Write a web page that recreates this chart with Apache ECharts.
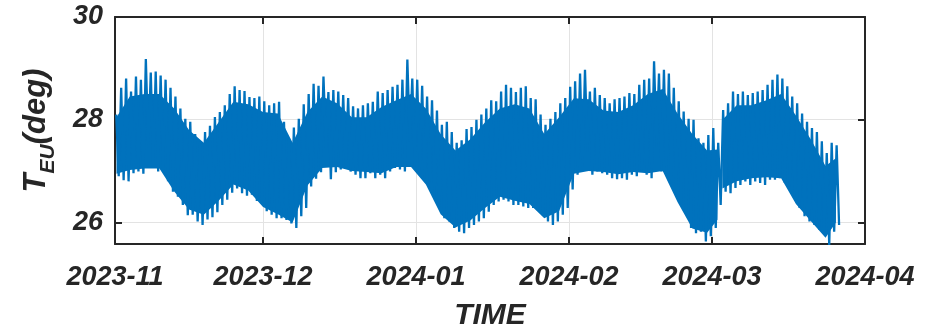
<!DOCTYPE html>
<html>
<head>
<meta charset="utf-8">
<script src="https://cdn.jsdelivr.net/npm/echarts@6/dist/echarts.min.js"></script>
<style>
html, body { margin: 0; padding: 0; background: #fff; }
#chart { width: 927px; height: 331px; }
</style>
</head>
<body>
<div id="chart"></div>
<script>
// daily peak (upper spike tips) and trough (lower spike tips), one value per day from 2023-11-01
var dailyHigh = [
	28.10, 28.62, 28.80, 28.55, 28.84, 28.78, 29.18, 28.92, 28.94, 28.86,
	28.78, 28.62, 28.45, 28.22, 28.02, 27.96, 27.72, 27.58, 27.76, 27.88,
	28.05, 28.15, 28.28, 28.50, 28.65, 28.58, 28.56, 28.44, 28.42, 28.45,
	28.36, 28.28, 28.32, 28.35, 27.96, 27.64, 27.85, 28.02, 28.30, 28.50,
	28.70, 28.66, 28.84, 28.54, 28.58, 28.55, 28.48, 28.42, 28.26, 28.22,
	28.28, 28.32, 28.35, 28.55, 28.52, 28.58, 28.64, 28.68, 28.78, 29.17,
	28.80, 28.78, 28.66, 28.45, 28.38, 28.18, 27.90, 27.96, 27.76, 27.55,
	27.60, 27.82, 27.86, 28.00, 28.10, 28.22, 28.38, 28.36, 28.55, 28.68,
	28.62, 28.54, 28.62, 28.65, 28.42, 28.40, 28.10, 27.90, 28.02, 28.15,
	28.32, 28.42, 28.64, 28.75, 28.90, 28.97, 28.55, 28.62, 28.48, 28.42,
	28.32, 28.40, 28.42, 28.45, 28.52, 28.50, 28.68, 28.78, 28.80, 29.14,
	28.90, 28.97, 28.90, 28.62, 28.36, 28.16, 28.02, 28.00, 27.64, 27.55,
	27.70, 27.84, 27.55, 28.19, 28.32, 28.55, 28.50, 28.55, 28.48, 28.52,
	28.55, 28.58, 28.68, 28.78, 28.88, 28.80, 28.65, 28.45, 28.32, 28.12,
	27.96, 27.84, 27.76, 27.58, 27.35, 27.55, 27.50
];
var dailyLow = [
	26.90, 26.82, 26.80, 26.96, 26.99, 26.95, 27.45, 27.08, 26.99, 27.02,
	26.80, 26.60, 26.50, 26.34, 26.14, 26.15, 26.02, 25.95, 26.06, 26.10,
	26.20, 26.34, 26.44, 26.58, 26.66, 26.57, 26.52, 26.54, 26.42, 26.38,
	26.22, 26.15, 26.08, 26.08, 26.05, 25.98, 25.89, 26.12, 26.28, 26.70,
	26.85, 26.98, 27.45, 26.84, 26.98, 27.03, 27.06, 26.99, 26.93, 26.86,
	26.86, 26.96, 26.86, 26.93, 26.86, 26.99, 27.06, 27.03, 26.99, 27.58,
	27.06, 26.99, 26.86, 26.67, 26.47, 26.28, 26.08, 26.02, 25.89, 25.82,
	25.79, 25.89, 25.95, 26.02, 26.08, 26.21, 26.34, 26.41, 26.44, 26.41,
	26.34, 26.34, 26.31, 26.28, 26.28, 26.25, 26.21, 26.02, 25.95, 26.02,
	26.15, 26.28, 26.64, 26.93, 27.06, 27.38, 26.93, 26.99, 26.96, 26.93,
	26.86, 26.84, 26.86, 26.83, 26.93, 26.90, 26.99, 26.93, 26.86, 27.48,
	26.99, 26.96, 26.73, 26.60, 26.34, 26.15, 25.89, 25.79, 25.82, 25.63,
	25.73, 25.89, 26.34, 26.60, 26.57, 26.67, 26.73, 26.80, 26.73, 26.80,
	26.77, 26.73, 26.83, 26.83, 26.86, 26.77, 26.70, 26.51, 26.28, 26.12,
	26.02, 25.95, 25.86, 25.76, 25.56, 25.82, 25.95
];

// solid core of the signal (where the daily swings overlap), days since 2023-11-01
var bandDays = [
	0.3, 3, 6, 9, 12, 15, 18, 21, 24, 27, 30, 33, 36, 39, 42, 45, 48, 51, 54, 57,
	60, 63, 66, 69, 72, 75, 78, 81, 84, 87, 90, 93, 96, 99, 102, 105, 108, 111, 114, 117,
	120, 122.1, 122.5, 123.1, 126, 129, 132, 135, 138, 141, 144, 146.1
];
var bandTop = [
	28.05, 28.45, 28.50, 28.50, 28.22, 27.80, 27.55, 27.95, 28.35, 28.30,
	28.15, 28.12, 27.55, 28.15, 28.45, 28.32, 28.05, 28.05, 28.25, 28.38,
	28.50, 28.22, 27.72, 27.40, 27.62, 27.95, 28.22, 28.30, 28.22, 27.72,
	28.05, 28.42, 28.40, 28.18, 28.15, 28.28, 28.50, 28.60, 28.12, 27.72,
	27.40, 27.42, null, 28.00, 28.28, 28.28, 28.38, 28.50, 28.08, 27.62,
	27.10, 27.25
];
var bandBottom = [
	26.95, 27.02, 27.05, 27.05, 26.60, 26.25, 26.15, 26.42, 26.74, 26.62,
	26.30, 26.16, 26.00, 26.72, 27.06, 27.08, 27.00, 26.98, 26.96, 27.08,
	27.08, 26.74, 26.16, 25.90, 26.04, 26.28, 26.50, 26.42, 26.36, 26.08,
	26.22, 26.95, 27.00, 26.98, 26.94, 26.98, 26.96, 27.00, 26.40, 25.88,
	25.80, 26.05, null, 26.66, 26.80, 26.86, 26.88, 26.86, 26.36, 26.03,
	25.70, 26.00
];

var DAY = 86400000;
var firstDay = new Date(2023, 10, 1).getTime();
var lastDay = new Date(2024, 3, 1).getTime();
var yMin = 25.58;
var yMax = 30;

var teu = [];
for (var i = 0; i < dailyHigh.length; i++) {
	teu.push([firstDay + (i + 0.25) * DAY, dailyHigh[i]]);
	teu.push([firstDay + (i + 0.75) * DAY, dailyLow[i]]);
}
var coreBase = [], coreSpan = [];
for (var j = 0; j < bandDays.length; j++) {
	var t = firstDay + bandDays[j] * DAY;
	var ok = bandTop[j] != null && bandBottom[j] != null;
	coreBase.push([t, ok ? bandBottom[j] : null]);
	coreSpan.push([t, ok ? bandTop[j] - bandBottom[j] : null]);
}

var ink = '#262626';
var blue = '#0072BD';
var font = 'Liberation Sans, Arial, sans-serif';

function monthLabel(v) {
	var d = new Date(v);
	var m = d.getMonth() + 1;
	return d.getFullYear() + '-' + (m < 10 ? '0' + m : m);
}

var chart = echarts.init(document.getElementById('chart'));

var xBase = {
	type: 'time',
	min: firstDay,
	max: lastDay,
	minInterval: 28 * DAY,
	maxInterval: 31 * DAY,
	axisLine: { show: true, lineStyle: { color: ink, width: 2 } },
	axisTick: { show: true, inside: true, length: 7, lineStyle: { color: ink, width: 2 } }
};
var yBase = {
	type: 'value',
	min: yMin,
	max: yMax,
	splitNumber: 2,
	axisLine: { show: true, lineStyle: { color: ink, width: 2 } },
	axisTick: { show: true, inside: true, length: 7, lineStyle: { color: ink, width: 2 } }
};
var tickFont = { fontFamily: font, fontSize: 27, fontWeight: 'bold', fontStyle: 'italic', color: ink };

chart.setOption({
	animation: false,
	grid: { left: 115, right: 62, top: 17, bottom: 87, containLabel: false, outerBoundsMode: 'none' },
	xAxis: [
		Object.assign({}, xBase, {
			position: 'bottom',
			name: 'TIME',
			nameLocation: 'middle',
			nameGap: 57,
			nameTextStyle: { fontFamily: font, fontSize: 30, fontWeight: 'bold', fontStyle: 'italic', color: ink },
			axisLabel: Object.assign({ formatter: monthLabel, margin: 20 }, tickFont),
			splitLine: { show: true, lineStyle: { color: '#e3e3e3', width: 1 } }
		}),
		Object.assign({}, xBase, {
			position: 'top',
			axisLabel: { show: false },
			splitLine: { show: false }
		})
	],
	yAxis: [
		Object.assign({}, yBase, {
			position: 'left',
			name: '{t|T}{s|EU}{d|(deg)}',
			nameLocation: 'middle',
			nameRotate: 90,
			nameGap: 63,
			nameTextStyle: {
				rich: {
					t: { fontFamily: font, fontSize: 31, fontWeight: 'bold', fontStyle: 'italic', color: ink, lineHeight: 31, verticalAlign: 'top' },
					s: { fontFamily: font, fontSize: 21, fontWeight: 'bold', fontStyle: 'italic', color: ink, lineHeight: 21, padding: [23, 0, 0, 0] },
					d: { fontFamily: font, fontSize: 31, fontWeight: 'bold', fontStyle: 'italic', color: ink, lineHeight: 31, verticalAlign: 'top' }
				}
			},
			axisLabel: Object.assign({ margin: 12, showMinLabel: false }, tickFont),
			splitLine: { show: true, lineStyle: { color: '#e3e3e3', width: 1 } }
		}),
		Object.assign({}, yBase, {
			position: 'right',
			axisLabel: { show: false },
			splitLine: { show: false }
		})
	],
	series: [{
		name: 'core-base',
		type: 'line',
		stack: 'core',
		data: coreBase,
		showSymbol: false,
		lineStyle: { width: 0, opacity: 0 },
		silent: true
	}, {
		name: 'core',
		type: 'line',
		stack: 'core',
		data: coreSpan,
		showSymbol: false,
		lineStyle: { width: 0, opacity: 0 },
		areaStyle: { color: blue, opacity: 1 },
		silent: true
	}, {
		name: 'T_EU',
		type: 'line',
		data: teu,
		showSymbol: false,
		sampling: null,
		lineStyle: { color: blue, width: 2.3 }
	}]
});
</script>
</body>
</html>
